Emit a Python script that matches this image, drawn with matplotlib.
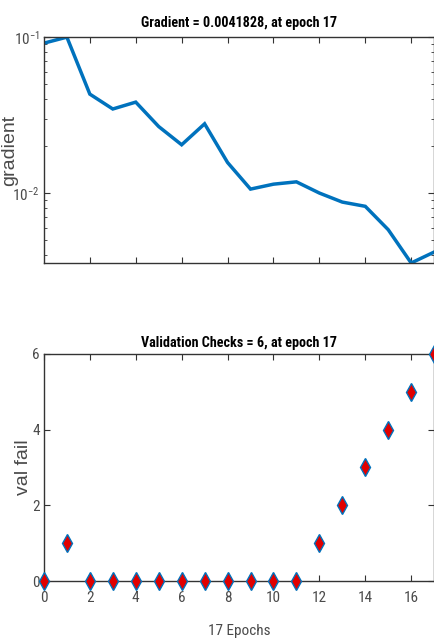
import matplotlib
matplotlib.use("Agg")
import matplotlib.pyplot as plt
from matplotlib import font_manager as fm

epochs = list(range(18))
gradient = [0.0915, 0.1, 0.0431, 0.0346, 0.0383, 0.0267, 0.0204, 0.0278, 0.0157,
            0.0106, 0.0114, 0.0118, 0.0100, 0.00875, 0.00822, 0.00582, 0.00356, 0.0041828]
val_fail = [0, 1, 0, 0, 0, 0, 0, 0, 0, 0, 0, 0, 1, 2, 3, 4, 5, 6]
top_title = "Gradient = 0.0041828, at epoch 17"
bot_title = "Validation Checks = 6, at epoch 17"
top_ylabel = "gradient"
bot_ylabel = "val fail"
bot_xlabel = "17 Epochs"
xticks_top = [2, 4, 6, 8, 10, 12, 14, 16]
xticks_bottom = [0, 2, 4, 6, 8, 10, 12, 14, 16]
yticks_bottom = [0, 2, 4, 6]

names = {f.name for f in fm.fontManager.ttflist}
narrow = "DejaVu Sans"
for cand in ["Liberation Sans Narrow", "Roboto Condensed", "Archivo Narrow",
             "Barlow Semi Condensed", "Encode Sans Condensed"]:
    if cand in names:
        narrow = cand
        break
regular = "Liberation Sans" if "Liberation Sans" in names else "DejaVu Sans"

plt.rcParams['font.family'] = [narrow, 'DejaVu Sans']
plt.rcParams['mathtext.fontset'] = 'custom'
plt.rcParams['mathtext.rm'] = narrow
plt.rcParams['mathtext.it'] = narrow
plt.rcParams['mathtext.bf'] = narrow

blue = '#0072BD'
labc = '#4a4a4a'
fig = plt.figure(figsize=(4.35, 6.38), dpi=100)
ax1 = fig.add_axes([0.101, 0.5878, 0.897, 0.354])
ax2 = fig.add_axes([0.101, 0.0893, 0.897, 0.356])

ax1.semilogy(epochs, gradient, color=blue, lw=2.5, solid_joinstyle='miter')
ax1.set_xlim(0, 17)
ax1.set_ylim(min(gradient), max(gradient))
ax1.set_xticks(xticks_top)
ax1.set_xticklabels([])
ax1.set_ylabel(top_ylabel, fontsize=14, color=labc, family=[regular, 'DejaVu Sans'])
ax1.yaxis.set_label_coords(-0.067, 0.5)
ax1.set_title(top_title, fontsize=10.2, fontweight='bold', pad=7)

ax2.plot(epochs, val_fail, linestyle='none', marker='d', markersize=9,
         markerfacecolor='#e00000', markeredgecolor=blue, markeredgewidth=1.0,
         clip_on=False, zorder=5)
ax2.set_xlim(0, 17)
ax2.set_ylim(0, 6)
ax2.set_xticks(xticks_bottom)
ax2.set_yticks(yticks_bottom)
ax2.set_ylabel(bot_ylabel, fontsize=14, color=labc, family=[regular, 'DejaVu Sans'])
ax2.yaxis.set_label_coords(-0.031, 0.5)
ax2.set_xlabel(bot_xlabel, fontsize=11, color=labc, labelpad=14)
ax2.set_title(bot_title, fontsize=10.2, fontweight='bold', pad=5)

for ax in (ax1, ax2):
    ax.tick_params(which='both', direction='in', top=True, right=True, colors='#333333',
                   labelsize=11, labelcolor=labc)
    ax.tick_params(axis='y', which='major', pad=3)
    ax.tick_params(axis='x', which='major', pad=7)
    ax.tick_params(which='major', length=4)
    ax.tick_params(which='minor', length=2)
    for s in ax.spines.values():
        s.set_color('#333333')
        s.set_linewidth(1.0)

fig.savefig("out.png", dpi=100)
